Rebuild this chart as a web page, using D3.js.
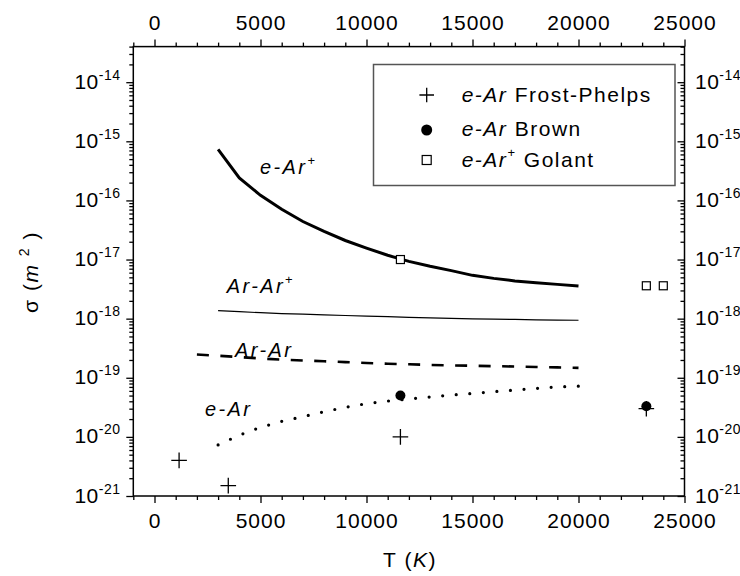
<!DOCTYPE html>
<html><head><meta charset="utf-8">
<script src="https://cdn.jsdelivr.net/npm/d3@7"></script>
<style>
body{margin:0;background:#fff;}
svg text{font-family:"Liberation Sans",Arial,Helvetica,sans-serif;fill:#000;}
</style></head><body>
<svg id="c" width="740" height="576"></svg>
<script>
// ---- data ----
const eArIonT = [3000,4000,5000,6000,7000,8000,9000,10000,11000,12000,13000,14000,15000,16000,17000,18000,19000,20000];
const eArIonSigma = [7.3e-16,2.4e-16,1.22e-16,7.1e-17,4.4e-17,3.0e-17,2.1e-17,1.56e-17,1.18e-17,9.3e-18,7.7e-18,6.5e-18,5.4e-18,4.8e-18,4.35e-18,4.05e-18,3.8e-18,3.56e-18];

const arArIonT = [3000,4000,5000,6000,7000,8000,9000,10000,11000,12000,13000,14000,15000,16000,17000,18000,19000,20000];
const arArIonSigma = [1.37e-18,1.31e-18,1.26e-18,1.22e-18,1.19e-18,1.16e-18,1.13e-18,1.10e-18,1.08e-18,1.05e-18,1.03e-18,1.01e-18,0.995e-18,0.98e-18,0.97e-18,0.955e-18,0.945e-18,0.94e-18];

const arArT = [2000,3000,4000,5000,6000,7000,8000,9000,10000,11000,12000,13000,14000,15000,16000,17000,18000,19000,20000];
const arArSigma = [2.47e-19,2.36e-19,2.24e-19,2.12e-19,2.03e-19,1.96e-19,1.90e-19,1.84e-19,1.78e-19,1.73e-19,1.69e-19,1.65e-19,1.62e-19,1.60e-19,1.57e-19,1.55e-19,1.52e-19,1.50e-19,1.47e-19];

const eArT = [3000,4000,5000,6000,7000,8000,9000,10000,11000,12000,13000,14000,15000,16000,17000,18000,19000,20000];
const eArSigma = [7.3e-21,1.07e-20,1.45e-20,1.83e-20,2.2e-20,2.67e-20,3.16e-20,3.65e-20,4.03e-20,4.38e-20,4.73e-20,5.09e-20,5.43e-20,5.82e-20,6.2e-20,6.6e-20,7.0e-20,7.2e-20];

const frostT = [1160,3480,11600,23200];
const frostSigma = [4e-21,1.5e-21,1e-20,3e-20];
const brownT = [11600,23200];
const brownSigma = [5e-20,3.3e-20];
const golantT = [11600,23200,24000];
const golantSigma = [1e-17,3.6e-18,3.6e-18];

const xMajorTicks = [0,5000,10000,15000,20000,25000];
const yMajorExponents = [-21,-20,-19,-18,-17,-16,-15,-14];

// ---- layout ----
const svg = d3.select("#c");
const L = 133.3, R = 684.5, T = 46.6, B = 496;
const x = d3.scaleLinear().domain([-1000,25000]).range([L,R]);
const y = d3.scaleLog().domain([1e-21,4e-14]).range([B,T]);

const xMinorTicks = d3.range(-1000,25001,1000).filter(v => !xMajorTicks.includes(v));
const yMajor = yMajorExponents.map(e => Math.pow(10,e));
const yMinor = [];
yMajorExponents.forEach(e => { for (let k=2;k<=9;k++){ const v=k*Math.pow(10,e); if (v<=4e-14*1.0001) yMinor.push(v);} });

function styleAxis(g){
  g.select(".domain").remove();
  g.selectAll(".tick line").attr("stroke","#000").attr("stroke-width",1.3);
  g.selectAll(".tick text").style("font-size","21px").style("letter-spacing","1px");
}
// bottom
svg.append("g").attr("transform",`translate(0,${B})`)
  .call(d3.axisBottom(x).tickValues(xMajorTicks).tickSize(7).tickPadding(10.3).tickFormat(d3.format("d"))).call(styleAxis);
svg.append("g").attr("transform",`translate(0,${B})`)
  .call(d3.axisBottom(x).tickValues(xMinorTicks).tickSize(4).tickFormat("")).call(styleAxis);
// top
svg.append("g").attr("transform",`translate(0,${T})`)
  .call(d3.axisTop(x).tickValues(xMajorTicks).tickSize(7).tickPadding(9.6).tickFormat(d3.format("d"))).call(styleAxis);
svg.append("g").attr("transform",`translate(0,${T})`)
  .call(d3.axisTop(x).tickValues(xMinorTicks).tickSize(4).tickFormat("")).call(styleAxis);
// left (outward)
svg.append("g").attr("transform",`translate(${L},0)`)
  .call(d3.axisLeft(y).tickValues(yMajor).tickSize(7).tickFormat("")).call(styleAxis);
svg.append("g").attr("transform",`translate(${L},0)`)
  .call(d3.axisLeft(y).tickValues(yMinor).tickSize(4).tickFormat("")).call(styleAxis);
// right (inward)
svg.append("g").attr("transform",`translate(${R},0)`)
  .call(d3.axisRight(y).tickValues(yMajor).tickSize(-7).tickFormat("")).call(styleAxis);
svg.append("g").attr("transform",`translate(${R},0)`)
  .call(d3.axisRight(y).tickValues(yMinor).tickSize(-4).tickFormat("")).call(styleAxis);

// frame
svg.append("rect").attr("x",L).attr("y",T).attr("width",R-L).attr("height",B-T)
  .attr("fill","none").attr("stroke","#000").attr("stroke-width",1.5);

// y tick labels with superscripts
function yLabel(sel, anchor, xpos){
  const t = sel.selectAll(null).data(yMajorExponents).join("text")
    .attr("x",xpos).attr("y",e => y(Math.pow(10,e))+6.5)
    .attr("text-anchor",anchor).style("letter-spacing","0.5px");
  t.append("tspan").style("font-size","21px").text("10");
  t.append("tspan").style("font-size","14px").attr("dy",-9).text(e => String(e).replace("-","-"));
}
yLabel(svg.append("g"),"end",120.5);
yLabel(svg.append("g"),"start",695);

// axis titles
const yt = svg.append("text").attr("transform","translate(38,272) rotate(-90)")
  .attr("text-anchor","middle").style("font-size","21px").style("letter-spacing","1.5px");
yt.append("tspan").text("σ (");
yt.append("tspan").style("font-style","italic").text("m");
yt.append("tspan").text(" ");
yt.append("tspan").style("font-size","14px").attr("dy",-9).text("2");
yt.append("tspan").attr("dy",9).text(" )");

const xt = svg.append("text").attr("x",410).attr("y",566.5)
  .attr("text-anchor","middle").style("font-size","21px").style("letter-spacing","1.5px");
xt.append("tspan").text("T (");
xt.append("tspan").style("font-style","italic").text("K");
xt.append("tspan").text(")");

// curves
const line = d3.line().x(d => x(d[0])).y(d => y(d[1]));
const zip = (a,b) => a.map((v,i) => [v,b[i]]);
svg.append("path").attr("d",line(zip(eArIonT,eArIonSigma))).attr("fill","none").attr("stroke","#000").attr("stroke-width",3);
svg.append("path").attr("d",line(zip(arArIonT,arArIonSigma))).attr("fill","none").attr("stroke","#000").attr("stroke-width",1.2);
svg.append("path").attr("d",line(zip(arArT,arArSigma))).attr("fill","none").attr("stroke","#000").attr("stroke-width",2.6).attr("stroke-dasharray","12,11.5");
svg.append("path").attr("d",line(zip(eArT,eArSigma))).attr("fill","none").attr("stroke","#000").attr("stroke-width",3.2).attr("stroke-linecap","round").attr("stroke-dasharray","0,13.6");

// curve labels
function curveLabel(xp, yp, main, sup){
  const t = svg.append("text").attr("x",xp).attr("y",yp).style("font-size","20px").style("font-style","italic").style("letter-spacing","2.4px");
  t.append("tspan").text(main);
  if (sup) t.append("tspan").style("font-size","13px").style("font-style","normal").attr("dy",-9).text(sup);
}
curveLabel(260,174.3,"e-Ar","+");
curveLabel(226.7,293.3,"Ar-Ar","+");
curveLabel(235,357.3,"Ar-Ar",null);
curveLabel(205,415.7,"e-Ar",null);

// markers
function plus(g, cx, cy, a){
  g.append("path").attr("d",`M${cx-a},${cy}H${cx+a}M${cx},${cy-a}V${cy+a}`).attr("stroke","#000").attr("stroke-width",1.3).attr("fill","none");
}
const mg = svg.append("g");
zip(frostT,frostSigma).forEach(d => plus(mg, x(d[0]), y(d[1]), 7.8));
mg.selectAll("circle").data(zip(brownT,brownSigma)).join("circle")
  .attr("cx",d => x(d[0])).attr("cy",d => y(d[1])).attr("r",5).attr("fill","#000");
mg.selectAll("rect").data(zip(golantT,golantSigma)).join("rect")
  .attr("x",d => x(d[0])-4).attr("y",d => y(d[1])-4).attr("width",8).attr("height",8)
  .attr("fill","#fff").attr("stroke","#000").attr("stroke-width",1.2);

// legend
const lg = svg.append("g");
lg.append("rect").attr("x",373.5).attr("y",64.5).attr("width",301.5).attr("height",121)
  .attr("fill","#fff").attr("stroke","#555").attr("stroke-width",1.5);
plus(lg, 426.7, 95, 7.3);
lg.append("circle").attr("cx",426.7).attr("cy",130).attr("r",5.5).attr("fill","#000");
lg.append("rect").attr("x",422.2).attr("y",155.5).attr("width",9).attr("height",9).attr("fill","#fff").attr("stroke","#000").attr("stroke-width",1.2);
const legendRows = [
  {y:101.7, it:"e-Ar", sup:null, rest:" Frost-Phelps"},
  {y:135.5, it:"e-Ar", sup:null, rest:" Brown"},
  {y:166.5, it:"e-Ar", sup:"+", rest:" Golant"}
];
legendRows.forEach(r => {
  const t = lg.append("text").attr("x",461.7).attr("y",r.y).style("font-size","21px").style("letter-spacing","1.5px");
  t.append("tspan").style("font-style","italic").text(r.it);
  if (r.sup){
    t.append("tspan").style("font-size","13px").attr("dy",-9.5).text(r.sup);
    t.append("tspan").attr("dy",9.5).text(r.rest);
  } else t.append("tspan").text(r.rest);
});
</script>
</body></html>
